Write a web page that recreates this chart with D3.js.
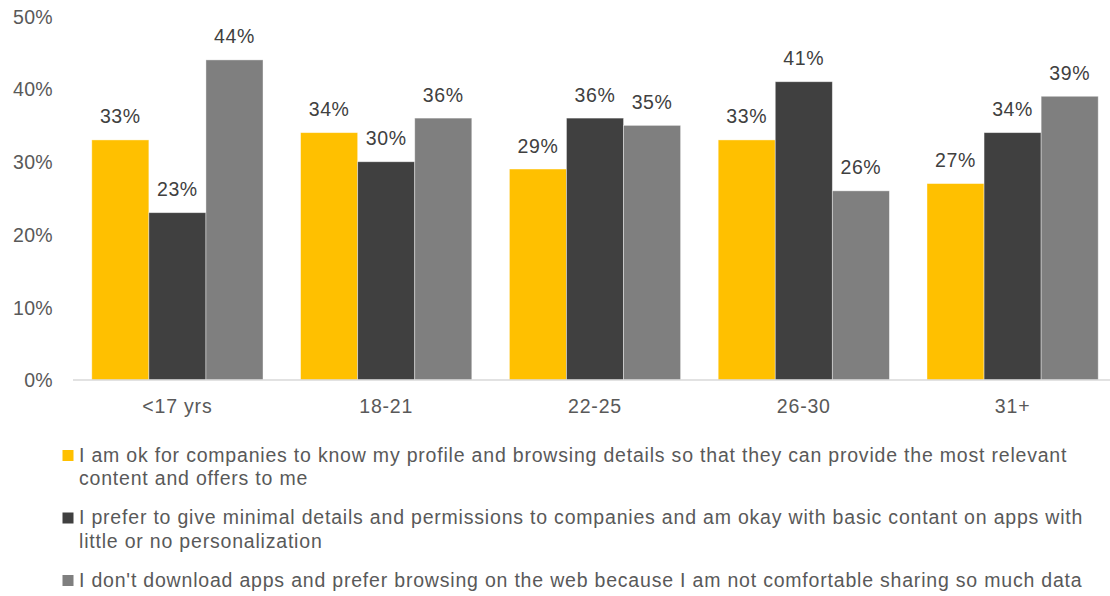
<!DOCTYPE html>
<html>
<head>
<meta charset="utf-8">
<script src="https://cdn.jsdelivr.net/npm/d3@7"></script>
<style>
  html, body { margin: 0; padding: 0; background: #fff; }
  svg { display: block; font-family: "Liberation Sans", Arial, Helvetica, sans-serif; }
</style>
</head>
<body>
<svg id="chart" width="1110" height="596"></svg>
<script>
// Age groups on the x axis
const categories = ["<17 yrs", "18-21", "22-25", "26-30", "31+"];

// Share of respondents (%) per attitude, per age group
const okWithProfiling = [33, 34, 29, 33, 27];
const minimalDetails  = [23, 30, 36, 41, 34];
const browseOnWeb     = [44, 36, 35, 26, 39];

const yTicks = [0, 10, 20, 30, 40, 50];

// Legend texts, broken into their display lines
const legendLines = [
  ["I am ok for companies to know my profile and browsing details so that they can provide the most relevant",
   "content and offers to me"],
  ["I prefer to give minimal details and permissions to companies and am okay with basic contant on apps with",
   "little or no personalization"],
  ["I don't download apps and prefer browsing on the web because I am not comfortable sharing so much data"]
];

const series = [
  { key: "ok",      values: okWithProfiling, color: "#FFC000", lines: legendLines[0] },
  { key: "minimal", values: minimalDetails,  color: "#404040", lines: legendLines[1] },
  { key: "web",     values: browseOnWeb,     color: "#7F7F7F", lines: legendLines[2] }
];

const svg = d3.select("#chart");
const plot = { left: 73, right: 1117, top: 16, bottom: 380 };

const x0 = d3.scaleBand()
  .domain(categories)
  .range([plot.left, plot.right])
  .paddingInner(0.18)
  .paddingOuter(0.09);

const x1 = d3.scaleBand()
  .domain(series.map(s => s.key))
  .range([0, x0.bandwidth()]);

const y = d3.scaleLinear()
  .domain([0, 50])
  .range([plot.bottom, plot.top + 0.25]);

// Y axis labels (no axis line, no gridlines)
const yAxis = svg.append("g")
  .attr("transform", `translate(${plot.left - 20},0)`)
  .call(d3.axisLeft(y).tickValues(yTicks).tickFormat(d => d + "%").tickSize(0).tickPadding(0));
yAxis.select(".domain").remove();
yAxis.selectAll("text")
  .attr("fill", "#595959")
  .style("font-size", "19.5px")
  .style("letter-spacing", "0.3px")
  .attr("dy", "0.35em");

// Bars
const groups = svg.append("g")
  .selectAll("g")
  .data(categories)
  .join("g")
  .attr("transform", d => `translate(${x0(d)},0)`);

const cells = groups.selectAll("g.cell")
  .data((c, i) => series.map(s => ({ key: s.key, color: s.color, value: s.values[i] })))
  .join("g")
  .attr("class", "cell");

cells.append("rect")
  .attr("x", d => x1(d.key))
  .attr("y", d => y(d.value))
  .attr("width", x1.bandwidth())
  .attr("height", d => y(0) - y(d.value))
  .attr("fill", d => d.color)
  .attr("stroke", "#ffffff")
  .attr("stroke-opacity", 0.5)
  .attr("stroke-width", 0.8);

// Value labels above bars
cells.append("text")
  .attr("x", d => x1(d.key) + x1.bandwidth() / 2)
  .attr("y", d => y(d.value) - 16.5)
  .attr("text-anchor", "middle")
  .attr("fill", "#404040")
  .style("font-size", "19.5px")
  .style("letter-spacing", "0.6px")
  .text(d => d.value + "%");

// X axis baseline and category labels
const xAxis = svg.append("g")
  .attr("transform", `translate(0,${plot.bottom})`)
  .call(d3.axisBottom(x0).tickSize(0).tickPadding(0));
xAxis.select(".domain")
  .attr("stroke", "#D9D9D9")
  .attr("stroke-width", 1.5)
  .attr("d", `M${plot.left},0H${plot.right}`);
xAxis.selectAll("text")
  .attr("fill", "#595959")
  .style("font-size", "19.5px")
  .style("letter-spacing", "0.8px")
  .attr("dy", null)
  .attr("y", 33);

// Legend
const legendTop = [461.5, 524, 586.5];
const lineGap = 23.5;
const legend = svg.append("g");
series.forEach((s, i) => {
  const g = legend.append("g");
  g.append("rect")
    .attr("x", 62.5)
    .attr("y", legendTop[i] - 11.5)
    .attr("width", 11)
    .attr("height", 11)
    .attr("fill", s.color);
  g.append("text")
    .attr("fill", "#595959")
    .style("font-size", "19.5px")
    .style("letter-spacing", "0.8px")
    .selectAll("tspan")
    .data(s.lines)
    .join("tspan")
    .attr("x", 79)
    .attr("y", (d, j) => legendTop[i] + j * lineGap)
    .text(d => d);
});
</script>
</body>
</html>
